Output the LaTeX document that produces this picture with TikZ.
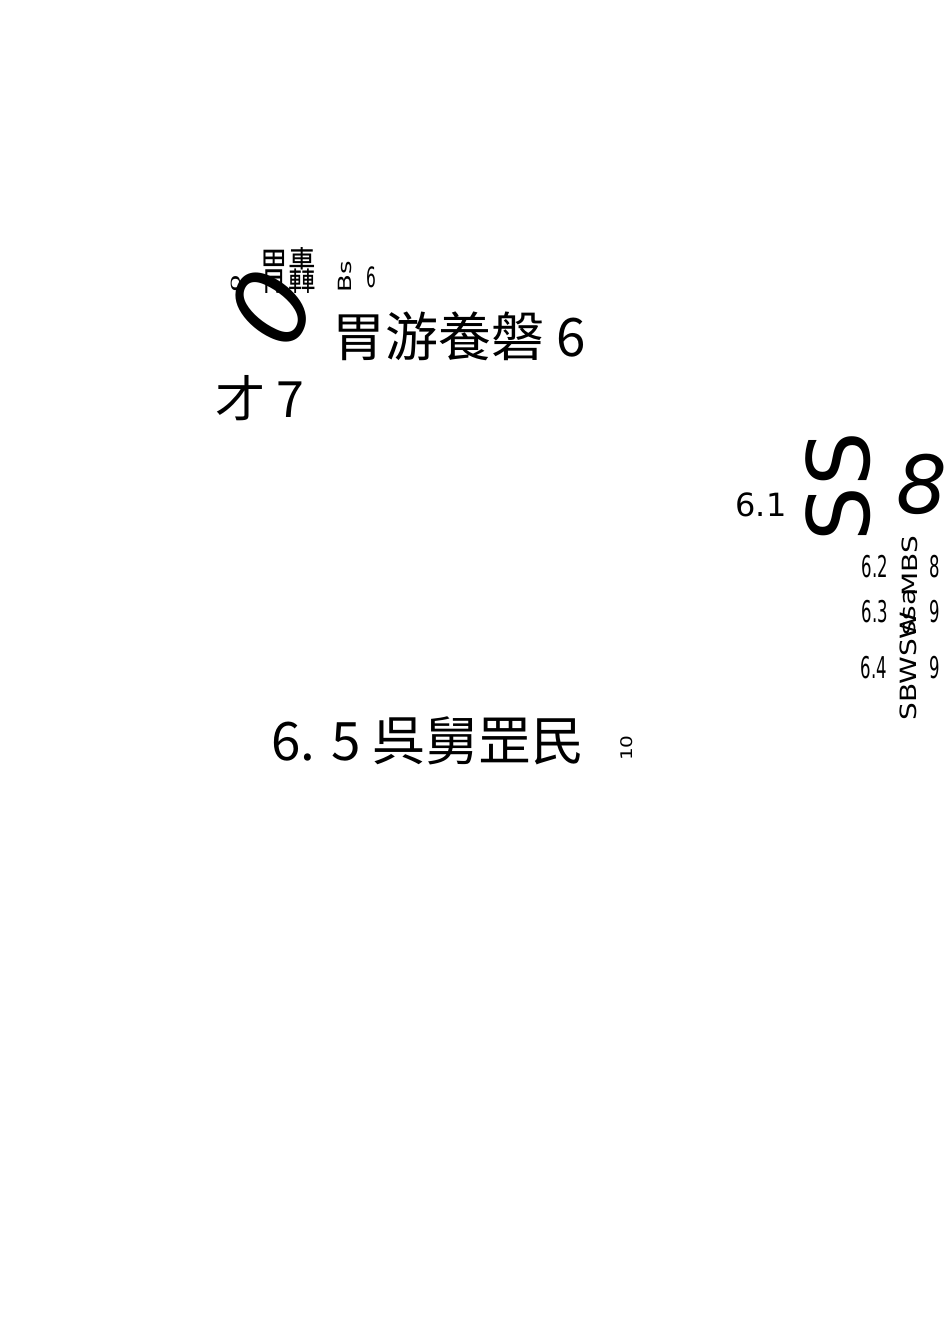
\documentclass[tikz,border=0pt]{standalone}
\usepackage{fontspec}
\setmainfont{DejaVu Sans}
\newfontfamily\cjk{Noto Sans CJK SC}
\begin{document}
\begin{tikzpicture}[x=1pt,y=-1pt,
 t/.style={inner sep=0pt,anchor=center},
 n/.style={t,xscale=0.55}]
\useasboundingbox (0,0) rectangle (950,1344);
\fill[white] (0,0) rectangle (950,1344);
\node[t,rotate=90,yscale=0.45,font=\fontsize{28}{28}\selectfont] (z0) at (236,284) {0};
\node[t,rotate=65,font=\itshape\fontsize{104}{104}\selectfont] (bigzero) at (271,308) {0};
\node[n,font=\cjk\fontsize{50}{50}\selectfont] (w1) at (288,270) {胃轟};
\node[t,rotate=90,yscale=0.7,font=\fontsize{26}{26}\selectfont] (bs) at (345,277) {Bs};
\node[n,font=\fontsize{28}{28}\selectfont] (six) at (371,277) {6};
\node[t,font=\cjk\fontsize{53}{53}\selectfont] (title) at (459,336) {胃游養磐 6};
\node[t,font=\cjk\fontsize{50}{50}\selectfont] (c7) at (260,398) {才 7};
\node[t,font=\fontsize{32}{32}\selectfont] (s61) at (761,505) {6.1};
\node[t,rotate=90,font=\fontsize{86}{86}\selectfont] (ss) at (838,487) {SS};
\node[t,font=\itshape\fontsize{80}{80}\selectfont] (e8) at (922,484) {8};
\node[n,font=\fontsize{30}{30}\selectfont] (s62) at (875,567) {6.2};
\node[t,rotate=90,yscale=0.75,font=\fontsize{28}{28}\selectfont] (mbs) at (910,566) {MBS};
\node[n,font=\fontsize{30}{30}\selectfont] (n8) at (935,567) {8};
\node[n,font=\fontsize{30}{30}\selectfont] (s63) at (875,612) {6.3};
\node[t,rotate=90,yscale=0.78,font=\fontsize{28}{28}\selectfont] (ssa) at (910,612) {ssa};
\node[n,font=\fontsize{30}{30}\selectfont] (n9a) at (935,612) {9};
\node[n,font=\fontsize{30}{30}\selectfont] (s64) at (874,668) {6.4};
\node[t,rotate=90,yscale=0.8,font=\fontsize{28}{28}\selectfont] (sbw) at (908,666) {SBWSW};
\node[n,font=\fontsize{30}{30}\selectfont] (n9b) at (935,668) {9};
\node[t,font=\cjk\fontsize{53}{53}\selectfont] (s65) at (428,741) {6. 5 呉舅罡民};
\node[t,rotate=90,yscale=0.8,font=\fontsize{20}{20}\selectfont] (ten) at (627,748) {10};
\end{tikzpicture}
\end{document}
